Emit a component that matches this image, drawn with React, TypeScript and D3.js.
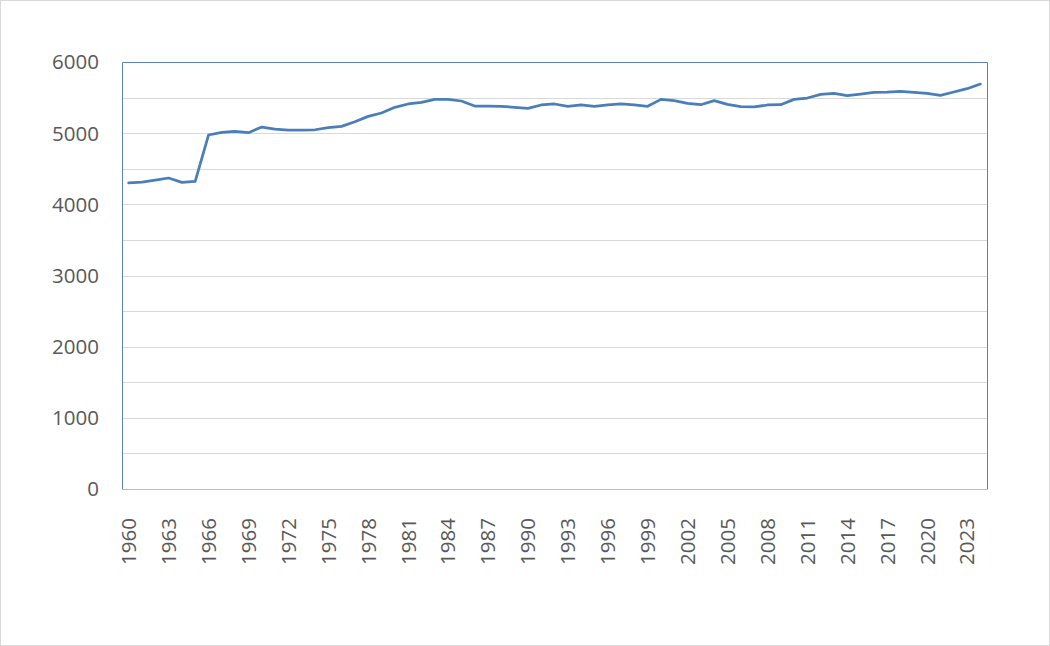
import React, { useEffect, useRef } from "react";
import * as d3 from "d3";

const years: number[] = d3.range(1960, 2025);
const values: number[] = [
  4300, 4313, 4340, 4370, 4309, 4323, 4974, 5012, 5026, 5007,
  5086, 5058, 5044, 5044, 5048, 5077, 5096, 5161, 5236, 5283,
  5363, 5410, 5433, 5475, 5475, 5452, 5381, 5381, 5377, 5363,
  5349, 5396, 5410, 5377, 5396, 5377, 5396, 5410, 5396, 5377,
  5475, 5457, 5419, 5400, 5457, 5405, 5372, 5368, 5396, 5400,
  5475, 5494, 5546, 5560, 5527, 5550, 5574, 5578, 5588, 5574,
  5560, 5532, 5578, 5625, 5690,
];
const yTicks: number[] = [0, 1000, 2000, 3000, 4000, 5000, 6000];
const yGrid: number[] = d3.range(500, 6000, 500);

const W = 1050;
const H = 646;
const M = { left: 122, right: 987, top: 62, bottom: 489 };
const FONT = "'Open Sans', sans-serif";
const FS = 20.5;

export default function App() {
  const ref = useRef<SVGSVGElement>(null);
  useEffect(() => {
    const svg = d3.select(ref.current);
    svg.selectAll("*").remove();

    const x = d3.scaleBand<number>().domain(years).range([M.left, M.right]);
    const y = d3.scaleLinear().domain([0, 6000]).range([M.bottom, M.top]);
    const cx = (d: number) => (x(d) as number) + x.bandwidth() / 2;

    svg.append("rect").attr("x", 0.5).attr("y", 0.5).attr("width", W - 1).attr("height", H - 1)
      .attr("fill", "#fff").attr("stroke", "#d9d9d9").attr("stroke-width", 1);

    svg.append("g").selectAll("line").data(yGrid).join("line")
      .attr("x1", M.left).attr("x2", M.right)
      .attr("y1", (d) => Math.round(y(d)) + 0.5).attr("y2", (d) => Math.round(y(d)) + 0.5)
      .attr("stroke", "#d9d9d9").attr("stroke-width", 1);

    svg.append("path")
      .attr("d", `M${M.left + 0.5},${M.bottom}V${M.top + 0.5}H${M.right + 0.5}V${M.bottom}`)
      .attr("fill", "none").attr("stroke", "#5d84ae").attr("stroke-width", 1);
    svg.append("line").attr("x1", M.left).attr("x2", M.right + 1)
      .attr("y1", M.bottom + 0.5).attr("y2", M.bottom + 0.5)
      .attr("stroke", "#bfbfbf").attr("stroke-width", 1);

    svg.append("g").selectAll("text").data(yTicks).join("text")
      .attr("x", 99).attr("y", (d) => y(d))
      .attr("dy", "0.36em").attr("text-anchor", "end")
      .attr("font-family", FONT).attr("font-size", FS).attr("fill", "#595959")
      .text((d) => String(d));

    const labelYears = years.filter((d) => (d - 1960) % 3 === 0);
    svg.append("g").selectAll("text").data(labelYears).join("text")
      .attr("transform", (d) => `translate(${cx(d)},518) rotate(-90)`)
      .attr("dy", "0.36em").attr("text-anchor", "end")
      .attr("font-family", FONT).attr("font-size", FS).attr("fill", "#595959")
      .text((d) => String(d));

    const line = d3.line<number>().x((_, i) => cx(years[i])).y((d) => y(d));
    svg.append("path").datum(values).attr("d", line)
      .attr("fill", "none").attr("stroke", "#4a7ebb").attr("stroke-width", 2.75)
      .attr("stroke-linejoin", "round").attr("stroke-linecap", "round");
  }, []);
  return (
    <svg ref={ref} width={W} height={H}
      style={{ position: "absolute", left: 0, top: 0, display: "block" }} />
  );
}
